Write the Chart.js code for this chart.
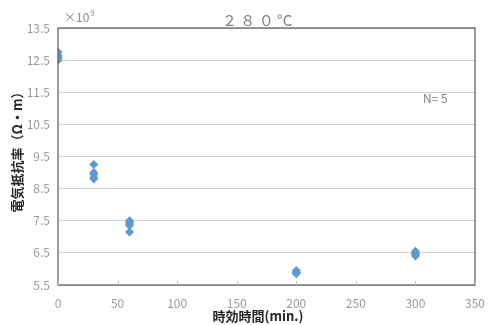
<!DOCTYPE html>
<html>
<head>
<meta charset="utf-8">
<script src="https://cdn.jsdelivr.net/npm/chart.js@4/dist/chart.umd.min.js"></script>
<style>
  html, body { margin: 0; padding: 0; background: #fff; }
  #wrap { width: 488px; height: 325px; }
</style>
</head>
<body>
<div id="wrap"><canvas id="chart"></canvas></div>
<script>
// 時効時間 (min.) と電気抵抗率 (×10^9 Ω・m)
const tiempos = [0, 0, 0, 0, 0, 30, 30, 30, 30, 30, 60, 60, 60, 60, 60, 200, 200, 200, 200, 200, 300, 300, 300, 300, 300];
const resistividad = [12.75, 12.65, 12.55, 12.5, 12.6, 9.25, 9.0, 8.95, 8.85, 8.8, 7.5, 7.45, 7.4, 7.35, 7.15, 5.95, 5.9, 5.88, 5.85, 5.9, 6.55, 6.5, 6.45, 6.4, 6.48];
const yTicks = [5.5, 6.5, 7.5, 8.5, 9.5, 10.5, 11.5, 12.5, 13.5];
const xTicks = [0, 50, 100, 150, 200, 250, 300, 350];

const fontJP = "'Noto Sans CJK JP', 'Noto Sans', sans-serif";

// Textos extra: ×10^9, título, N=5, títulos de ejes y borde del área
const extras = {
    id: 'extras',
    afterDraw(chart) {
        const c = chart.ctx;
        const a = chart.chartArea;
        c.save();
        c.strokeStyle = '#595959';
        c.lineWidth = 1.2;
        c.strokeRect(a.left, a.top, a.right - a.left, a.bottom - a.top);
        // marcas del eje x hacia dentro
        const xs = chart.scales.x;
        c.strokeStyle = '#bfbfbf';
        c.lineWidth = 1;
        xTicks.forEach(v => {
            const px = Math.round(xs.getPixelForValue(v)) + 0.5;
            c.beginPath();
            c.moveTo(px, a.bottom);
            c.lineTo(px, a.bottom - 4);
            c.stroke();
        });
        c.fillStyle = '#8c8c8c';
        c.textBaseline = 'alphabetic';
        c.textAlign = 'left';
        c.font = "12px " + fontJP;
        c.fillText('×10', 64, 22);
        const w = c.measureText('×10').width;
        c.font = "8px " + fontJP;
        c.fillText('9', 64 + w + 1, 16);
        c.font = "15px " + fontJP;
        c.fillStyle = '#808080';
        c.fillText('２ ８ ０ °C', 222, 26);
        c.font = "12px " + fontJP;
        c.fillText('N= 5', 423, 103);
        // títulos de ejes
        c.fillStyle = '#262626';
        c.font = "bold 13px " + fontJP;
        c.textAlign = 'center';
        c.textBaseline = 'middle';
        c.fillText('時効時間(min.)', 258, 316);
        c.translate(17, 149);
        c.rotate(-Math.PI / 2);
        c.fillText('電気抵抗率（Ω・m）', 0, 0);
        c.restore();
    }
};

new Chart(document.getElementById('chart'), {
    type: 'scatter',
    data: {
        datasets: [{
            data: tiempos.map((t, i) => ({ x: t, y: resistividad[i] })),
            pointStyle: 'rectRot',
            pointRadius: 4.5,
            backgroundColor: '#5b9bd5',
            borderColor: '#5b9bd5',
            borderWidth: 0
        }]
    },
    options: {
        responsive: true,
        maintainAspectRatio: false,
        animation: false,
        layout: { padding: { top: 28, right: 11, left: 0, bottom: 0 } },
        plugins: { legend: { display: false }, tooltip: { enabled: false } },
        scales: {
            x: {
                type: 'linear',
                min: 0,
                max: 350,
                afterBuildTicks: s => { s.ticks = xTicks.map(v => ({ value: v })); },
                afterFit: s => { s.height = 40; },
                grid: { display: false },
                border: { display: false },
                ticks: { color: '#9a9a9a', font: { size: 12, family: fontJP }, padding: 3 }
            },
            y: {
                type: 'linear',
                min: 5.5,
                max: 13.5,
                afterBuildTicks: s => { s.ticks = yTicks.map(v => ({ value: v })); },
                afterFit: s => { s.width = 58; },
                grid: { color: '#d0d0d0', drawTicks: false },
                border: { display: false },
                ticks: {
                    color: '#9a9a9a',
                    font: { size: 12, family: fontJP },
                    padding: 8,
                    callback: v => v.toFixed(1)
                }
            }
        }
    },
    plugins: [extras]
});
</script>
</body>
</html>
